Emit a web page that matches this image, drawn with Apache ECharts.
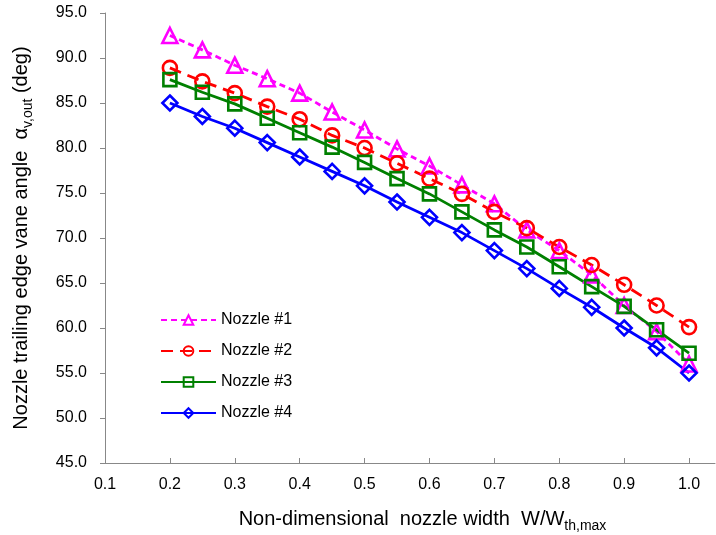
<!DOCTYPE html>
<html>
<head>
<meta charset="utf-8">
<script src="https://cdn.jsdelivr.net/npm/echarts@6/dist/echarts.min.js"></script>
<style>
html,body{margin:0;padding:0;background:#fff;}
#chart{width:716px;height:535px;}
</style>
</head>
<body>
<div id="chart"></div>
<script>
var widthRatio = [0.2, 0.25, 0.3, 0.35, 0.4, 0.45, 0.5, 0.55, 0.6, 0.65, 0.7, 0.75, 0.8, 0.85, 0.9, 0.95, 1.0];
var nozzle1 = [92.5, 90.9, 89.2, 87.7, 86.1, 84.0, 82.0, 79.9, 78.0, 75.9, 73.8, 70.9, 68.6, 65.9, 62.5, 59.6, 56.0];
var nozzle2 = [88.9, 87.4, 86.1, 84.6, 83.2, 81.4, 80.0, 78.3, 76.6, 74.9, 72.9, 71.1, 69.0, 67.0, 64.8, 62.5, 60.1];
var nozzle3 = [87.6, 86.2, 84.9, 83.3, 81.7, 80.1, 78.4, 76.6, 74.9, 72.9, 70.9, 69.0, 66.8, 64.6, 62.4, 59.8, 57.2];
var nozzle4 = [85.0, 83.5, 82.2, 80.6, 79.0, 77.4, 75.8, 74.0, 72.3, 70.6, 68.6, 66.6, 64.4, 62.3, 60.0, 57.8, 55.0];
var xTicks = [0.1, 0.2, 0.3, 0.4, 0.5, 0.6, 0.7, 0.8, 0.9, 1.0];
var seriesNames = ['Nozzle #1', 'Nozzle #2', 'Nozzle #3', 'Nozzle #4'];
var xTitle = '{m|Non-dimensional  nozzle width  W/W}{s|th,max}';
var yTitle = '{m|Nozzle trailing edge vane angle  α}{s|v,out}{m| (deg)}';

function pairs(ys) { return widthRatio.map(function (x, i) { return [x, ys[i]]; }); }

var FONT = '"Liberation Sans", Arial, sans-serif';
var chart = echarts.init(document.getElementById('chart'), null, {renderer: 'canvas'});

function mkSeries(name, data, color, symbol, size, dash) {
  return {
    name: name, type: 'line', data: pairs(data),
    symbol: symbol, symbolSize: size, showAllSymbol: true,
    lineStyle: {color: color, width: 2.8, type: dash},
    itemStyle: {color: 'rgba(255,255,255,0)', borderColor: color, borderWidth: 2.6},
    emphasis: {disabled: true}, animation: false
  };
}

var titleRich = {
  m: {fontSize: 20, color: '#000', fontFamily: FONT, lineHeight: 28},
  s: {fontSize: 14, color: '#000', fontFamily: FONT, lineHeight: 14, verticalAlign: 'bottom'}
};

chart.setOption({
  animation: false,
  textStyle: {fontFamily: FONT},
  grid: {left: 105, right: 1, top: 13, bottom: 72, containLabel: false, outerBoundsMode: 'none'},
  legend: {
    orient: 'vertical', left: 155, top: 306,
    itemWidth: 55, itemHeight: 12, itemGap: 13,
    textStyle: {fontFamily: FONT, fontSize: 16, color: '#000', lineHeight: 18},
    data: seriesNames
  },
  xAxis: {
    type: 'value', min: 0.1, max: 1.04, interval: 0.1,
    axisLine: {lineStyle: {color: '#888', width: 1}},
    axisTick: {inside: true, length: 5, lineStyle: {color: '#888'}, customValues: xTicks},
    axisLabel: {
      customValues: xTicks, margin: 14, fontSize: 16, color: '#000', fontFamily: FONT,
      formatter: function (v) { return v > 1.001 ? '' : v.toFixed(1); }
    },
    splitLine: {show: false},
    name: xTitle,
    nameLocation: 'middle', nameGap: 42,
    nameTextStyle: {padding: [0, 0, 0, 25], rich: titleRich}
  },
  yAxis: {
    type: 'value', min: 45, max: 95, interval: 5,
    axisLine: {show: true, lineStyle: {color: '#888', width: 1}},
    axisTick: {show: true, inside: false, length: 5, lineStyle: {color: '#888'}},
    axisLabel: {
      margin: 18, fontSize: 16, color: '#000', fontFamily: FONT,
      formatter: function (v) { return v.toFixed(1); }
    },
    splitLine: {show: false},
    name: yTitle,
    nameLocation: 'middle', nameRotate: 90, nameGap: 70,
    nameTextStyle: {rich: titleRich}
  },
  series: [
    mkSeries(seriesNames[0], nozzle1, '#FF00FF', 'triangle', 15, [6, 4]),
    mkSeries(seriesNames[1], nozzle2, '#FF0000', 'circle', 14, [12, 7]),
    mkSeries(seriesNames[2], nozzle3, '#008000', 'rect', 13, 'solid'),
    mkSeries(seriesNames[3], nozzle4, '#0000FF', 'diamond', 15, 'solid')
  ]
});
</script>
</body>
</html>
